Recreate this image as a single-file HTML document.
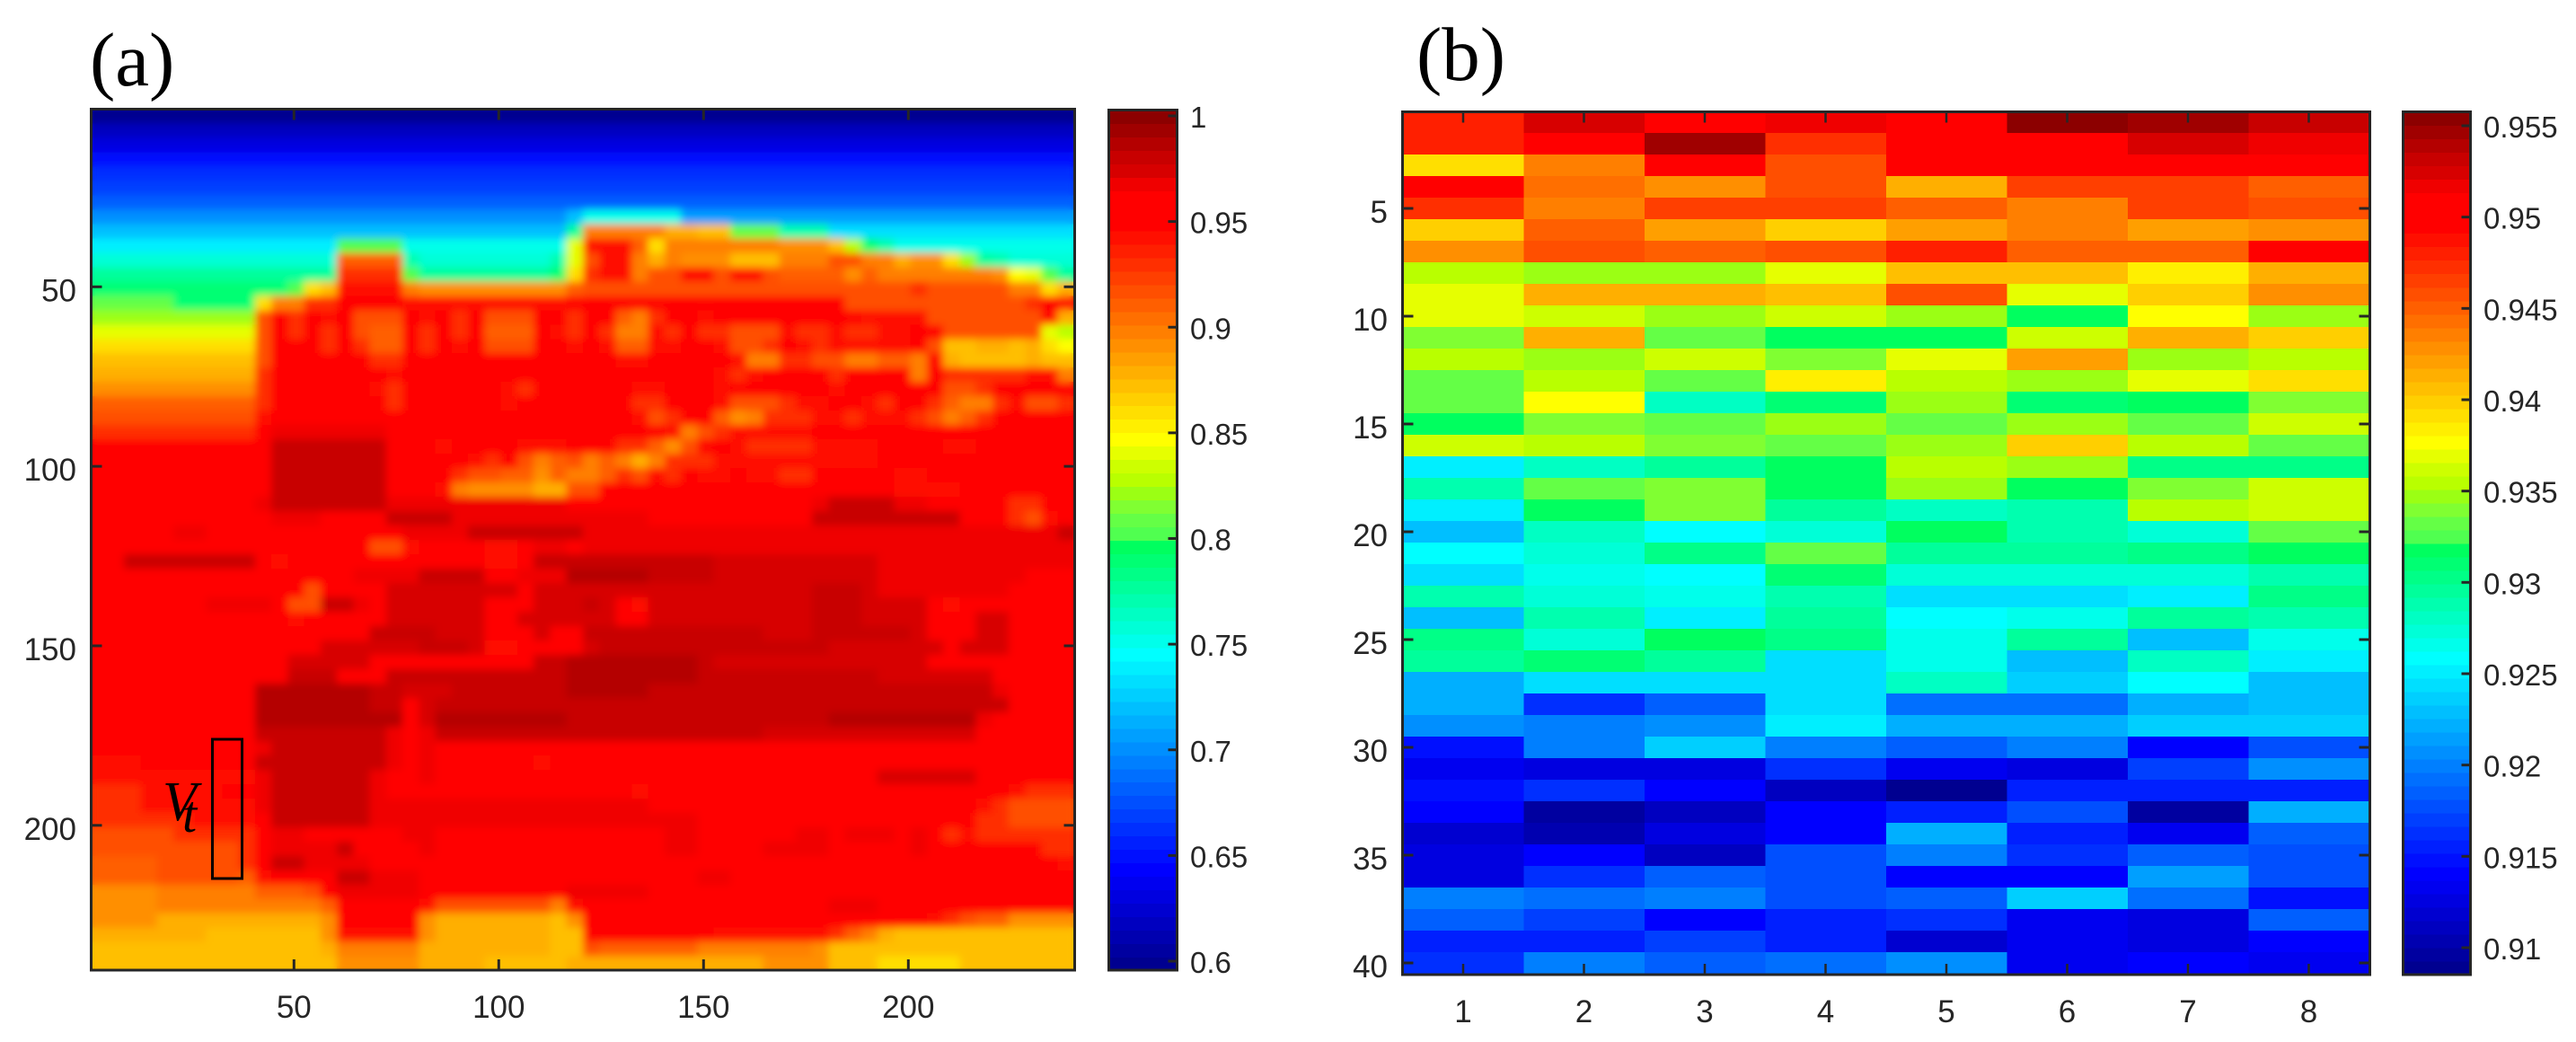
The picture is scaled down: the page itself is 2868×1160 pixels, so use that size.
<!DOCTYPE html>
<html lang="en">
<head>
<meta charset="utf-8">
<title>Heatmaps (a) and (b)</title>
<style>
html,body{margin:0;padding:0;background:#fff;}
svg{display:block;}
text{font-family:"Liberation Sans",Arial,sans-serif;fill:#262626;}
.serif{font-family:"Liberation Serif","Times New Roman",serif;fill:#000;}
</style>
</head>
<body>
<svg id="chart" xmlns="http://www.w3.org/2000/svg" width="2868" height="1160" viewBox="0 0 2868 1160">
  <defs>
    <clipPath id="clip-a"><rect x="101.5" y="121.5" width="1095" height="958.5"/></clipPath>
    <filter id="soften" filterUnits="userSpaceOnUse" x="90" y="110" width="1120" height="985"><feGaussianBlur stdDeviation="4.5"/></filter>
  </defs>
  <text class="serif" x="100" y="95" font-size="85">(a)</text>
  <text class="serif" x="1577" y="89" font-size="85">(b)</text>
  <g id="panel-a"></g>
  <g id="panel-b"></g>
  <g id="annotation">
    <rect x="236.5" y="823" width="33" height="155" fill="none" stroke="#000" stroke-width="3"/>
    <text class="serif" x="181" y="913" font-size="62" font-style="italic">V</text>
    <text class="serif" x="203" y="926" font-size="58" font-style="italic">t</text>
  </g>
</svg>
<script>
// Panel (a): estimated values in hundredths, 60 rows; each row is value,count pairs across 60 columns
const imageRuns = [
[60,60],[62,60],[63,60],[65,60],[66,60],[67,60],[68,60],
[70,29,72,1,75,6,71,24],
[72,29,78,1,90,5,88,2,87,2,81,3,77,3,73,15],
[74,15,80,4,75,10,84,1,94,3,91,1,86,1,90,7,89,3,87,1,83,1,79,1,77,1,75,11],
[76,15,91,4,77,1,76,8,77,1,84,1,92,1,94,2,90,1,88,1,90,1,89,3,87,3,90,3,92,2,90,2,88,1,89,2,86,1,82,1,78,1,77,1,76,4],
[78,15,93,4,80,1,78,8,79,1,86,1,93,1,94,2,90,1,92,2,95,2,92,1,94,2,92,1,91,4,89,1,91,1,90,7,89,1,85,1,84,1,80,1,78,1],
[79,12,80,1,86,1,87,1,94,4,90,1,89,9,91,1,92,20,93,1,92,5,90,2,86,1,88,1],
[81,5,79,5,86,1,90,2,93,2,95,4,94,10,95,17,92,11,93,1,95,1,94,1],
[82,10,92,1,95,1,93,1,95,1,94,1,95,1,92,3,95,1,94,1,95,1,93,1,95,1,92,3,95,2,93,1,95,2,91,1,90,1,93,1,95,2,94,1,95,2,95,7,94,4,92,7,95,1,88,1],
[84,10,92,1,95,1,93,1,95,1,93,1,95,1,92,1,91,2,95,1,93,1,95,1,93,1,95,1,91,3,95,1,94,1,93,1,95,1,93,1,90,2,94,1,93,1,95,1,93,2,92,3,94,1,93,2,94,1,93,2,94,2,95,2,92,6,84,1,83,1],
[86,10,92,1,95,3,93,1,95,1,93,1,91,2,95,1,93,1,95,1,94,1,95,1,92,3,95,2,94,1,95,1,94,1,91,2,94,2,95,2,94,1,92,2,93,1,95,1,94,1,93,1,94,5,95,1,92,1,87,2,88,2,87,1,88,1,86,1,85,1],
[87,10,92,1,95,6,93,2,95,13,94,2,95,5,94,1,90,2,93,2,92,2,90,2,91,2,90,1,95,1,88,1,87,4,88,1,87,2],
[88,10,93,1,95,7,94,1,95,19,94,1,93,1,94,1,95,4,93,1,95,4,90,1,95,1,93,5,94,2,90,1],
[89,10,93,1,95,6,94,1,93,1,95,6,94,1,93,1,95,6,94,2,95,3,94,1,95,6,94,1,95,6,92,2,93,1,95,5],
[91,10,93,1,95,7,93,1,95,6,94,1,95,7,93,2,95,3,94,1,92,3,93,1,94,2,95,2,94,1,93,1,95,2,93,1,91,1,90,2,93,1,94,1,92,2,93,1],
[92,10,94,1,96,7,95,15,94,1,92,1,93,1,95,2,91,1,89,1,90,1,93,3,94,2,93,1,94,3,93,1,92,1,90,1,91,1,93,1,95,5],
[93,10,95,1,97,7,95,11,96,5,95,1,94,1,90,1,92,1,93,1,94,5,95,16],
[95,10,96,1,98,7,95,3,94,1,95,4,94,3,95,3,93,2,91,1,89,1,92,1,95,2,94,1,93,4,94,4,95,4,94,2,95,6],
[95,10,96,1,98,7,95,5,94,1,93,1,95,1,92,1,90,1,91,1,92,1,90,1,91,1,90,1,88,1,90,1,93,3,94,10,95,12],
[95,10,96,1,98,7,95,4,93,1,92,2,91,2,89,1,91,1,90,2,91,1,93,1,92,1,94,1,93,1,95,1,94,2,95,1,94,2,93,2,95,5,94,2,95,9],
[95,10,96,1,98,7,95,3,94,1,90,1,89,4,88,2,92,2,95,18,94,4,95,7],
[96,10,97,1,98,7,97,11,96,15,97,1,98,4,97,2,96,5,93,2,95,1,96,1],
[95,10,96,1,97,3,96,4,98,4,97,12,96,10,98,9,96,3,93,1,92,1,94,1,96,1],
[96,5,97,2,95,11,96,1,97,4,98,7,97,29,98,1],
[96,11,95,6,92,2,94,1,95,4,94,2,95,1,97,2,96,1,97,30],
[96,2,98,8,95,1,94,1,95,3,96,9,94,2,96,1,98,11,97.5,10,97,12],
[96,12,95,4,97,4,98,4,96,2,97,3,99,5,98,4,97.5,10,97,9,96,3],
[96,8,95,5,92,1,95,4,97.5,8,95,1,97.5,17,98,3,97.5,1,97,8,96,4],
[96,7,97,4,96,1,92,2,98,2,97,1,95,1,97.5,6,95,3,97.5,3,98,1,97.5,1,95,1,94,1,97.5,10,98,3,97.5,4,96,1,94,1,95,1,96,2,95,4],
[96,11,95,1,94,1,95,1,96,4,97.5,6,96,1,95,1,97.5,6,96,1,95,1,97.5,10,98,3,97.5,4,96,1,95,2,97.5,2,96,4],
[96,13,95,1,96,3,98,4,97.5,3,95,2,96,1,97.5,1,95,2,98,11,97.5,3,98,6,97.5,1,96,1,95,1,96,1,97.5,2,96,4],
[96,10,95,2,96,2,97.5,6,98,3,97.5,1,94,2,96,2,95,1,96,1,97.5,1,98,14,97.5,7,96,1,97.5,3,96,4],
[95,10,96,2,97.5,5,95,2,96,8,98,2,99,8,98,1,97.5,13,96,6,95,3],
[95,9,96,3,98,3,96,3,98,11,99,8,98,11,97.5,7,96,2,95,3],
[95,9,96,1,99,7,98,2,97.5,3,98,7,99,5,98,21,97,1,96,4],
[95,9,96,1,99,7,98,2,96,1,97.5,1,98,35,96,4],
[95,10,99,9,96,1,97.5,1,99,8,98,16,99,9,97,1,95,5],
[95,10,98,8,97,1,95,1,97,1,98,20,97.5,13,96,6],
[95,10,97,1,98,7,97,1,95,1,97,1,95,16,96,6,95,7,96,10],
[94,3,95,7,98,8,97,1,96,1,97,1,95,6,94,1,95,23,96,9],
[94,10,97,1,98,6,97,1,96,2,97,1,96,7,95,18,96,2,97.5,6,95,6],
[93,3,94,5,95,2,97,1,98,6,97,1,95,1,96,10,95,4,94,1,95,11,96,4,95,7,94,1,93,3],
[93,3,94,7,97,1,98,6,97,17,95,11,96,6,95,3,94,1,93,1,92,4],
[93,6,94,4,96,1,98,6,97,20,96,1,95,16,93,2,92,4],
[92,5,93,5,95,1,97,2,96,3,95,3,97,2,96,14,97,2,96,1,95,5,97,2,95,1,97,3,95,1,97,1,95,1,93,1,94,1,93,6],
[92,9,93,1,95,1,97,4,98,1,95,3,96,1,97,1,96,10,95,4,97,2,95,4,97,4,95,5,97,1,95,7,93,2],
[91,4,92,5,93,1,95,1,98,2,97,4,96,12,95,15,96,3,95,12,94,1],
[91,4,92,5,91,1,94,1,95,1,96,3,98,2,97,3,96,17,97,2,95,16,96,5],
[89,4,90,6,91,3,92,1,95,1,97,5,95,9,97,5,96,8,95,6,96,3,95,9],
[89,4,90,10,91,1,96,4,95,1,94,1,92,7,90,1,94,1,96,15,97,3,95,12],
[89,4,88,10,89,1,95,5,89,1,88,7,87,1,89,1,95,1,96,3,95,17,94,1,93,1,92,1,91,2,89,4],
[88,7,87,7,89,1,94,5,89,1,88,7,87,2,95,8,94,7,93,1,91,1,90,1,88,1,87,11],
[87,14,88,1,90,5,88,8,87,2,92,1,91,6,90,7,89,1,87,15],
[87,15,89,5,88,4,87,5,88,12,89,4,87,3,86,5,87,7]
];
const imageXTicks = [50,100,150,200];
const imageYTicks = [50,100,150,200];
const imageColorbarTicks = [0.6,0.65,0.7,0.75,0.8,0.85,0.9,0.95,1];

// Panel (b): estimated cell values, 40 rows by 8 columns
const matrixRows = [
[.9481,.9525,.9503,.9518,.9510,.9555,.9547,.9533],
[.9481,.9510,.9547,.9473,.9503,.9503,.9525,.9518],
[.9392,.9436,.9503,.9459,.9503,.9496,.9496,.9496],
[.9503,.9444,.9429,.9459,.9414,.9466,.9466,.9451],
[.9473,.9436,.9466,.9466,.9451,.9436,.9466,.9459],
[.9399,.9451,.9422,.9399,.9422,.9436,.9422,.9429],
[.9429,.9459,.9451,.9459,.9481,.9451,.9451,.9503],
[.9355,.9348,.9348,.9370,.9407,.9407,.9385,.9414],
[.9370,.9414,.9414,.9407,.9459,.9370,.9399,.9429],
[.9370,.9362,.9348,.9362,.9348,.9318,.9377,.9348],
[.9340,.9414,.9333,.9318,.9318,.9362,.9414,.9399],
[.9355,.9348,.9362,.9340,.9370,.9422,.9348,.9355],
[.9333,.9355,.9333,.9385,.9355,.9348,.9370,.9392],
[.9333,.9377,.9281,.9311,.9348,.9311,.9318,.9340],
[.9318,.9340,.9333,.9348,.9333,.9348,.9333,.9362],
[.9362,.9355,.9340,.9333,.9348,.9399,.9355,.9333],
[.9252,.9281,.9296,.9318,.9355,.9348,.9303,.9303],
[.9289,.9333,.9340,.9318,.9348,.9318,.9340,.9362],
[.9252,.9318,.9340,.9296,.9281,.9289,.9355,.9362],
[.9229,.9281,.9259,.9274,.9318,.9289,.9274,.9333],
[.9259,.9274,.9303,.9333,.9296,.9296,.9303,.9318],
[.9244,.9266,.9259,.9311,.9274,.9274,.9274,.9289],
[.9289,.9274,.9266,.9289,.9244,.9244,.9252,.9303],
[.9229,.9289,.9252,.9296,.9259,.9266,.9296,.9289],
[.9303,.9274,.9318,.9303,.9266,.9296,.9229,.9266],
[.9296,.9311,.9296,.9244,.9266,.9229,.9281,.9252],
[.9222,.9244,.9244,.9244,.9281,.9237,.9259,.9229],
[.9222,.9163,.9185,.9244,.9192,.9192,.9222,.9229],
[.9207,.9200,.9207,.9252,.9222,.9222,.9237,.9237],
[.9148,.9200,.9237,.9200,.9185,.9200,.9141,.9178],
[.9133,.9126,.9126,.9163,.9133,.9126,.9170,.9207],
[.9148,.9163,.9141,.9111,.9089,.9156,.9156,.9156],
[.9141,.9096,.9111,.9141,.9156,.9178,.9096,.9222],
[.9119,.9104,.9126,.9141,.9222,.9156,.9133,.9185],
[.9126,.9141,.9111,.9178,.9200,.9163,.9185,.9178],
[.9126,.9163,.9185,.9178,.9141,.9141,.9215,.9178],
[.9200,.9192,.9200,.9178,.9185,.9237,.9192,.9148],
[.9185,.9170,.9141,.9156,.9163,.9133,.9126,.9185],
[.9156,.9156,.9170,.9156,.9119,.9133,.9126,.9141],
[.9163,.9200,.9185,.9192,.9207,.9133,.9141,.9133]
];
const matrixXTicks = [1,2,3,4,5,6,7,8];
const matrixYTicks = [5,10,15,20,25,30,35,40];
const matrixColorbarTicks = [0.91,0.915,0.92,0.925,0.93,0.935,0.94,0.945,0.95,0.955];

const INK = '#262626';
const NS = 'http://www.w3.org/2000/svg';

function svgEl(parent, tag, attrs) {
  const el = document.createElementNS(NS, tag);
  for (const key in attrs) el.setAttribute(key, attrs[key]);
  parent.appendChild(el);
  return el;
}

function expandRuns(runs) {
  const out = [];
  for (let i = 0; i < runs.length; i += 2) {
    for (let n = 0; n < runs[i + 1]; n++) out.push(runs[i]);
  }
  return out;
}

// 64-level colormap
function levelColor(k) {
  let r = 0, g = 0, b = 0;
  const mid = [80,100,128,155,185,205,230,255];
  const midBlue = [80,70,50,20,0,0,0,0];
  const dark = [255,240,215,200,180,160,140];
  if (k <= 7) { b = 144 + k * 16; }
  else if (k <= 23) { g = k === 23 ? 255 : (k - 7) * 16 - 1; b = 255; }
  else if (k <= 31) { g = 255; b = 255 - (k - 23) * 20; }
  else if (k <= 39) { r = mid[k - 32]; g = 255; b = midBlue[k - 32]; }
  else if (k <= 56) { r = 255; g = Math.max(0, 255 - (k - 39) * 16); }
  else { r = dark[k - 57]; }
  return 'rgb(' + r + ',' + g + ',' + b + ')';
}

function levelOf(v, vMin, vMax) {
  return Math.max(0, Math.min(63, Math.floor((v - vMin) / (vMax - vMin) * 64)));
}

const imgX = v => 327.3 + (v - 50) * 4.56;
const imgY = v => 319.3 + (v - 50) * 3.9967;
const matX = v => 1629 + (v - 1) * 134.5;
const matY = v => 232 + (v - 5) * 24;
const barAY = v => 129 + (1 - v) * 2352.5;
const barBY = v => 140 + (0.955 - v) * 20333;
const A_MIN = 0.5957, A_MAX = 1.0028;
const B_MIN = 0.90852, B_MAX = 0.95576;

function drawBox(parent, x0, y0, x1, y1, name) {
  const box = svgEl(parent, 'rect', {x:x0, y:y0, width:x1-x0, height:y1-y0, fill:'none', stroke:INK, 'stroke-width':3});
  
  
}

function drawTicks(parent, box, xTicks, yTicks, xf, yf, len, labelX, labelY, sw) {
  xTicks.forEach(t => {
    const x = xf(t);
    const bottom = svgEl(parent, 'line', {x1:x, x2:x, y1:box.y1, y2:box.y1-len, stroke:INK, 'stroke-width':sw});
    
    
    const top = svgEl(parent, 'line', {x1:x, x2:x, y1:box.y0, y2:box.y0+len, stroke:INK, 'stroke-width':sw});
    
    
    const label = svgEl(parent, 'text', {x:x, y:labelY, 'text-anchor':'middle', 'font-size':35});
    
    
    label.textContent = t;
  });
  yTicks.forEach(t => {
    const y = yf(t);
    const left = svgEl(parent, 'line', {x1:box.x0, x2:box.x0+len, y1:y, y2:y, stroke:INK, 'stroke-width':3});
    
    
    const right = svgEl(parent, 'line', {x1:box.x1, x2:box.x1-len, y1:y, y2:y, stroke:INK, 'stroke-width':3});
    
    
    const label = svgEl(parent, 'text', {x:labelX, y:y+16, 'text-anchor':'end', 'font-size':35});
    
    
    label.textContent = t;
  });
}

function drawColorbar(parent, x0, x1, yTop, yBot, vMin, vMax, ticks, yf, labelX, name) {
  const g = svgEl(parent, 'g', {});
  
  
  const w = (vMax - vMin) / 64;
  for (let k = 0; k < 64; k++) {
    const top = yf(vMin + (k + 1) * w);
    const seg = svgEl(g, 'rect', {x:x0, y:top, width:x1-x0, height:yf(vMin + k * w)-top+0.6, fill:levelColor(k), 'shape-rendering':'crispEdges'});
    
    
  }
  drawBox(g, x0, yTop, x1, yBot, 'colorbar-frame');
  ticks.forEach(t => {
    const y = yf(t);
    const tick = svgEl(g, 'line', {x1:x1, x2:x1-10, y1:y, y2:y, stroke:INK, 'stroke-width':3});
    
    
    const label = svgEl(g, 'text', {x:labelX, y:y+13, 'font-size':33});
    
    
    label.textContent = String(t);
  });
}

const panelA = document.getElementById('panel-a');
const clipped = svgEl(panelA, 'g', {'clip-path':'url(#clip-a)'});


const cellsA = svgEl(clipped, 'g', {id:'image-cells', 'shape-rendering':'crispEdges'});


imageRuns.forEach((runs, r) => {
  expandRuns(runs).forEach((val, c) => {
    const x0 = imgX(0.5 + c * 4), x1 = imgX(4.5 + c * 4);
    const y0 = imgY(0.5 + r * 4), y1 = imgY(4.5 + r * 4);
    const cell = svgEl(cellsA, 'rect', {x:x0, y:y0, width:x1-x0+0.5, height:y1-y0+0.5, fill:levelColor(levelOf(val / 100, A_MIN, A_MAX))});
    
    
  });
});
const softened = svgEl(clipped, 'use', {href:'#image-cells', filter:'url(#soften)'});


const boxA = {x0:101.5, y0:121.5, x1:1196.5, y1:1080};
drawBox(panelA, boxA.x0, boxA.y0, boxA.x1, boxA.y1, 'image-axes-frame');
drawTicks(panelA, boxA, imageXTicks, imageYTicks, imgX, imgY, 12, 85, 1133, 3);
drawColorbar(panelA, 1234.5, 1310.5, 122.5, 1080, A_MIN, A_MAX, imageColorbarTicks, barAY, 1325, 'image-colorbar');

const panelB = document.getElementById('panel-b');
const cellsB = svgEl(panelB, 'g', {'shape-rendering':'crispEdges'});


matrixRows.forEach((row, r) => {
  row.forEach((val, c) => {
    const x0 = matX(c + 0.5), x1 = matX(c + 1.5);
    const y0 = matY(r + 0.5), y1 = matY(r + 1.5);
    const cell = svgEl(cellsB, 'rect', {x:x0, y:y0, width:x1-x0+0.5, height:y1-y0+0.5, fill:levelColor(levelOf(val, B_MIN, B_MAX))});
    
    
  });
});
const boxB = {x0:1561.5, y0:124.5, x1:2638.5, y1:1085};
drawBox(panelB, boxB.x0, boxB.y0, boxB.x1, boxB.y1, 'matrix-axes-frame');
drawTicks(panelB, boxB, matrixXTicks, matrixYTicks, matX, matY, 12, 1545, 1138, 2.5);
drawColorbar(panelB, 2675.5, 2750.5, 124.5, 1085, B_MIN, B_MAX, matrixColorbarTicks, barBY, 2765, 'matrix-colorbar');
</script>
</body>
</html>
